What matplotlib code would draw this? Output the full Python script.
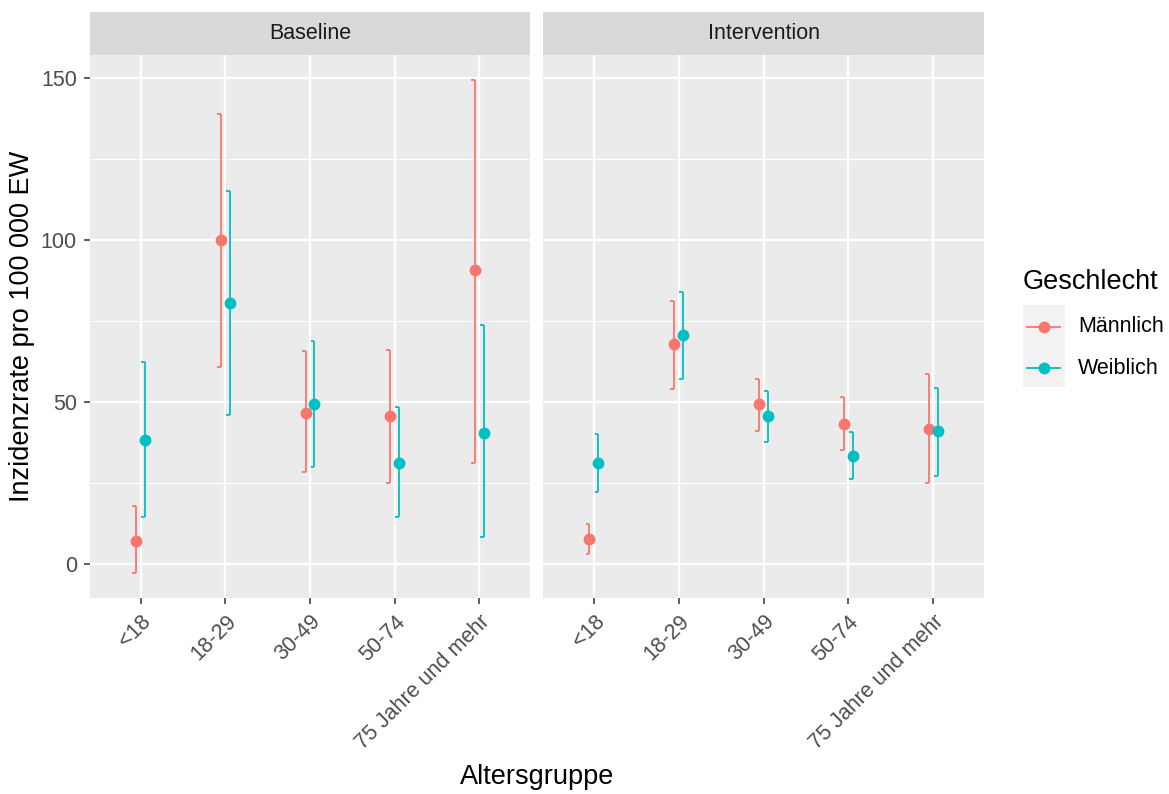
import numpy as np
import matplotlib.pyplot as plt
import matplotlib.transforms as mtransforms
from matplotlib.lines import Line2D
from matplotlib.patches import Rectangle

plt.rcParams['font.family'] = ['Liberation Sans', 'DejaVu Sans']

# Daten (Inzidenz pro 100 000 EW, Punkt und Konfidenzintervall)
groups = ["<18", "18-29", "30-49", "50-74", "75 Jahre und mehr"]
panels = ["Baseline", "Intervention"]
sexes = ["Männlich", "Weiblich"]

base_m = [7.2, 100.1, 46.8, 45.6, 90.7]
base_m_lo = [-2.8, 60.9, 28.5, 25.1, 31.3]
base_m_hi = [17.9, 139.0, 65.7, 66.2, 149.5]
base_w = [38.4, 80.6, 49.5, 31.1, 40.5]
base_w_lo = [14.5, 46.1, 30.1, 14.5, 8.3]
base_w_hi = [62.3, 115.1, 68.9, 48.5, 73.7]

int_m = [7.8, 67.9, 49.5, 43.4, 41.7]
int_m_lo = [3.2, 54.0, 41.2, 35.1, 25.1]
int_m_hi = [12.3, 81.2, 57.3, 51.7, 58.6]
int_w = [31.1, 70.7, 45.6, 33.4, 41.1]
int_w_lo = [22.3, 57.3, 37.8, 26.2, 27.2]
int_w_hi = [40.2, 83.9, 53.4, 40.7, 54.5]

colors = ["#F8766D", "#00BFC4"]
dodge = [-0.053, 0.053]

W, H = 1169, 794


def fig_box(x0, y0, x1, y1):
    # pixel box -> figure coordinates
    return [x0 / W, 1 - y1 / H, (x1 - x0) / W, (y1 - y0) / H]


def draw_panel(ax, series, fig):
    ax.set_facecolor("#EBEBEB")
    for s in ax.spines.values():
        s.set_visible(False)
    for y in [25, 75, 125]:
        ax.axhline(y, color="white", lw=0.8, zorder=0)
    for y in [0, 50, 100, 150]:
        ax.axhline(y, color="white", lw=1.6, zorder=0)
    x = np.arange(1, len(groups) + 1)
    for xi in x:
        ax.axvline(xi, color="white", lw=1.6, zorder=0)

    for k, (val, lo, hi) in enumerate(series):
        xs = x + dodge[k]
        ax.vlines(xs, lo, hi, color=colors[k], lw=1.3, zorder=2)
        ax.hlines(lo, xs - 0.045, xs, color=colors[k], lw=1.3, zorder=2)
        ax.hlines(hi, xs - 0.045, xs, color=colors[k], lw=1.3, zorder=2)
        ax.plot(xs, val, "o", color=colors[k], ms=7.5, zorder=3)

    ax.set_xlim(0.4, 5.6)
    ax.set_ylim(-10.4, 157.1)
    ax.set_xticks(x)
    ax.set_xticklabels(groups, rotation=45, ha="right", va="top",
                       rotation_mode="anchor", fontsize=15.5, color="#4D4D4D")
    # labels sit a bit right of the tick, like in ggplot
    shift = mtransforms.ScaledTranslation(4 / 100, 0, fig.dpi_scale_trans)
    for lab in ax.get_xticklabels():
        lab.set_transform(lab.get_transform() + shift)
    ax.set_yticks([0, 50, 100, 150])
    ax.tick_params(axis="both", length=4.5, width=1.1, color="#333333", pad=5)


fig = plt.figure(figsize=(W / 100, H / 100), dpi=100)

ax1 = fig.add_axes(fig_box(90, 55, 530, 598))
ax2 = fig.add_axes(fig_box(543, 55, 984, 598))

draw_panel(ax1, [(base_m, base_m_lo, base_m_hi), (base_w, base_w_lo, base_w_hi)], fig)
draw_panel(ax2, [(int_m, int_m_lo, int_m_hi), (int_w, int_w_lo, int_w_hi)], fig)

ax1.tick_params(axis="y", labelsize=15.5, labelcolor="#4D4D4D")
ax2.tick_params(axis="y", left=False, labelleft=False)

# Facetten-Streifen
for (x0, x1), name in zip([(90, 530), (543, 984)], panels):
    sax = fig.add_axes(fig_box(x0, 12, x1, 55))
    sax.set_facecolor("#D9D9D9")
    sax.set_xticks([])
    sax.set_yticks([])
    for s in sax.spines.values():
        s.set_visible(False)
    sax.text(0.5, 0.5, name, ha="center", va="center", fontsize=15.5,
             color="#1A1A1A", transform=sax.transAxes)

# Achsentitel
fig.text(537 / W, 1 - 777 / H, "Altersgruppe", ha="center", va="center",
         fontsize=19.5, color="black")
fig.text(22 / W, 1 - 326 / H, "Inzidenzrate pro 100 000 EW", ha="center",
         va="center", rotation=90, fontsize=19.5, color="black")

# Legende
fig.text(1023 / W, 1 - 282 / H, "Geschlecht", ha="left", va="center",
         fontsize=19.5, color="black")
fig.patches.append(Rectangle((1023 / W, 1 - 387 / H), 42 / W, 82 / H,
                             transform=fig.transFigure, facecolor="#F2F2F2",
                             edgecolor="none"))
for k, (name, yk) in enumerate(zip(sexes, [327, 368])):
    fig.lines.append(Line2D([1027 / W, 1060 / W], [1 - yk / H, 1 - yk / H],
                            transform=fig.transFigure, color=colors[k], lw=1.3))
    fig.lines.append(Line2D([1043.5 / W], [1 - yk / H], transform=fig.transFigure,
                            color=colors[k], marker="o", ms=7.5))
    fig.text(1078 / W, 1 - yk / H, name, ha="left", va="center",
             fontsize=15.5, color="black")

fig.savefig("out.png", dpi=100)
